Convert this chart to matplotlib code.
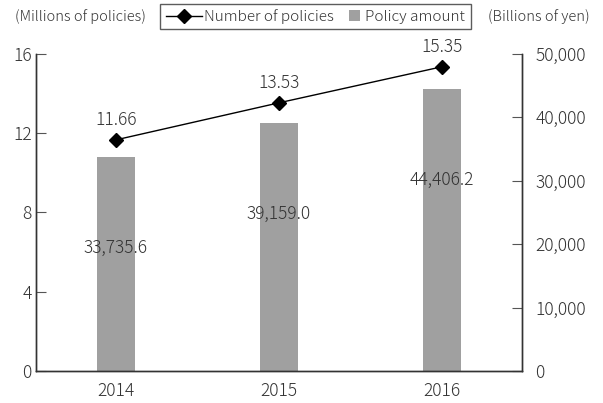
import matplotlib.pyplot as plt
from matplotlib.lines import Line2D
from matplotlib.patches import Rectangle
from matplotlib.legend_handler import HandlerBase

plt.rcParams['font.family'] = ['Noto Sans CJK JP', 'DejaVu Sans']
plt.rcParams['font.size'] = 12
plt.rcParams['font.weight'] = 'light'

# datos
years = ["2014", "2015", "2016"]
policies = [11.66, 13.53, 15.35]          # millones de pólizas
amount = [33735.6, 39159.0, 44406.2]      # miles de millones de yenes
left_ticks = [0, 4, 8, 12, 16]
right_ticks = [0, 10000, 20000, 30000, 40000, 50000]

text_color = "#333333"
bar_color = "#a0a0a0"


# cuadrado pequeño pegado al texto en la leyenda
class SquareHandler(HandlerBase):
    def create_artists(self, legend, orig_handle, xdescent, ydescent,
                       width, height, fontsize, trans):
        s = 8.0
        gap = 2.9
        r = Rectangle((width - xdescent - s - gap, -ydescent + (height - s) / 2), s, s,
                      facecolor=bar_color, edgecolor="none", transform=trans)
        return [r]


fig = plt.figure(figsize=(6.03, 4.03), dpi=100)
ax = fig.add_axes([0.0597, 0.0794, 0.806, 0.787])
ax2 = ax.twinx()

x = list(range(len(years)))

# barras en el eje derecho
ax2.bar(x, amount, width=0.23, color=bar_color, zorder=1)
for xi, v in zip(x, amount):
    ax2.annotate(f"{v:,.1f}", (xi, v), xytext=(0, -91), textcoords="offset pixels",
                 ha="center", va="center", color=text_color, fontsize=12.5)

# línea en el eje izquierdo, por encima de las barras
ax.set_zorder(ax2.get_zorder() + 1)
ax.patch.set_visible(False)
ax.plot(x, policies, color="black", lw=1, marker="D", ms=7.5, zorder=3)
for xi, v in zip(x, policies):
    ax.annotate(f"{v:.2f}", (xi, v), xytext=(0, 20), textcoords="offset pixels",
                ha="center", va="center", color=text_color, fontsize=12.5)

ax.set_xlim(-0.49, 2.49)
ax.set_ylim(0, 16)
ax.set_yticks(left_ticks)
ax2.set_ylim(0, 50000)
ax2.set_yticks(right_ticks)
ax2.set_yticklabels([f"{t:,}" for t in right_ticks])
ax.set_xticks(x)
ax.set_xticklabels(years)

for a in (ax, ax2):
    a.spines["top"].set_visible(False)
    for s in ("left", "right", "bottom"):
        a.spines[s].set_color("#333333")
        a.spines[s].set_linewidth(1)
    a.tick_params(axis="y", direction="in", length=7, colors="#555555", labelcolor=text_color,
                  labelsize=12.5)
ax.tick_params(axis="y", pad=3)
ax2.tick_params(axis="y", pad=9.5)
ax.tick_params(axis="x", length=0, labelcolor=text_color, labelsize=12.5, pad=8)

# títulos de los ejes
fig.text(0.025, 0.959, "(Millions of policies)", ha="left", va="center", color=text_color, fontsize=10.5)
fig.text(0.978, 0.959, "(Billions of yen)", ha="right", va="center", color=text_color, fontsize=10.5)

line_handle = Line2D([0], [0], color="black", lw=1, marker="D", ms=7)
square_handle = Rectangle((0, 0), 1, 1)
leg = fig.legend([line_handle, square_handle], ["Number of policies", "Policy amount"],
                 handler_map={Rectangle: SquareHandler()}, loc="center",
                 bbox_to_anchor=(0.523, 0.959), ncol=2, frameon=True, fancybox=False,
                 fontsize=11, handlelength=2.42, handletextpad=0.1, columnspacing=-0.46,
                 borderpad=0.35, borderaxespad=0, labelcolor=text_color)
leg.get_frame().set_edgecolor("#333333")
leg.get_frame().set_linewidth(1)

fig.savefig("out.png", dpi=100)
